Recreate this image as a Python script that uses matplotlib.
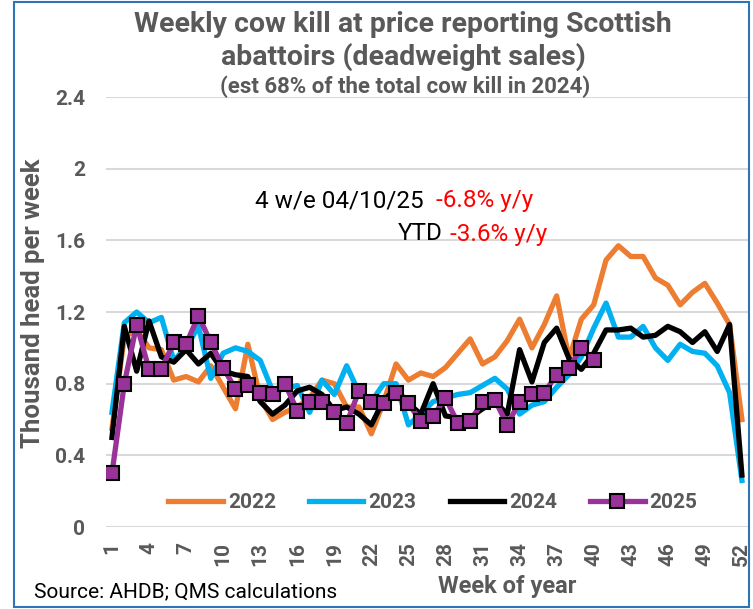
import matplotlib
matplotlib.use("Agg")
import matplotlib.pyplot as plt
from matplotlib.patches import Rectangle

plt.rcParams['font.family'] = ['Roboto', 'DejaVu Sans']

# weekly cow kill, thousand head
weeks = list(range(1, 53))
y2022 = [0.55, 1.06, 1.10, 1.00, 0.99, 0.82, 0.84, 0.81, 0.90, 0.78, 0.66, 1.02, 0.72,
         0.60, 0.64, 0.67, 0.72, 0.82, 0.80, 0.67, 0.67, 0.52, 0.70, 0.91, 0.82, 0.86,
         0.84, 0.89, 0.97, 1.05, 0.91, 0.95, 1.04, 1.16, 1.00, 1.13, 1.29, 0.94, 1.16,
         1.24, 1.49, 1.57, 1.51, 1.51, 1.39, 1.35, 1.24, 1.31, 1.36, 1.25, 1.13, 0.60]
y2023 = [0.64, 1.14, 1.20, 1.14, 1.17, 0.93, 1.00, 1.12, 0.83, 0.97, 1.00, 0.98, 0.93,
         0.76, 0.77, 0.79, 0.64, 0.82, 0.74, 0.90, 0.75, 0.70, 0.80, 0.80, 0.57, 0.63,
         0.70, 0.72, 0.74, 0.75, 0.79, 0.83, 0.77, 0.63, 0.68, 0.70, 0.78, 0.85, 0.95,
         1.11, 1.25, 1.06, 1.06, 1.12, 1.00, 0.93, 1.02, 0.98, 0.97, 0.90, 0.75, 0.26]
y2024 = [0.50, 1.12, 0.87, 1.15, 0.95, 0.92, 0.99, 0.91, 0.97, 0.87, 0.85, 0.84, 0.70,
         0.63, 0.68, 0.76, 0.78, 0.74, 0.65, 0.67, 0.63, 0.57, 0.71, 0.77, 0.69, 0.63,
         0.80, 0.62, 0.61, 0.61, 0.66, 0.70, 0.63, 0.99, 0.81, 1.03, 1.11, 0.94, 0.88,
         0.97, 1.10, 1.10, 1.11, 1.06, 1.07, 1.12, 1.09, 1.03, 1.09, 0.98, 1.13, 0.29]
y2025 = [0.30, 0.80, 1.13, 0.88, 0.88, 1.03, 1.02, 1.18, 1.03, 0.89, 0.77, 0.79, 0.75,
         0.74, 0.80, 0.65, 0.70, 0.70, 0.64, 0.58, 0.76, 0.70, 0.69, 0.75, 0.69, 0.59,
         0.62, 0.72, 0.58, 0.59, 0.70, 0.71, 0.57, 0.70, 0.74, 0.75, 0.85, 0.89, 1.00,
         0.93]

gray = '#595959'

fig = plt.figure(figsize=(7.53, 6.09), dpi=100)
ax = fig.add_axes([0.1405, 0.1346, 0.853, 0.7061])

ax.plot(weeks, y2022, color='#ED7D31', lw=3.8, label='2022', solid_joinstyle='round')
ax.plot(weeks, y2023, color='#00B0F0', lw=3.8, label='2023', solid_joinstyle='round')
ax.plot(weeks, y2024, color='black', lw=3.8, label='2024', solid_joinstyle='round')
ax.plot(weeks[:len(y2025)], y2025, color='#993399', lw=3.8, marker='s', markersize=10,
        markerfacecolor='#993399', markeredgecolor='black', markeredgewidth=1.5,
        label='2025', solid_joinstyle='round')

ax.set_xlim(0.5, 52.5)
ax.set_ylim(0, 2.4)
ax.set_yticks([0, 0.4, 0.8, 1.2, 1.6, 2, 2.4])
ax.set_yticklabels(['0', '0.4', '0.8', '1.2', '1.6', '2', '2.4'])
ax.set_xticks(weeks[::3])
ax.tick_params(length=0, labelcolor=gray, labelsize=15)
ax.tick_params(axis='y', pad=15)
ax.tick_params(axis='x', pad=11, labelrotation=90)
for lbl in ax.get_xticklabels() + ax.get_yticklabels():
    lbl.set_fontweight('bold')
ax.grid(axis='y', color='#D9D9D9', lw=1.5)
ax.set_axisbelow(True)
for s in ax.spines.values():
    s.set_visible(False)

fig.text(33 / 753, 1 - 303 / 609, 'Thousand head per week', rotation=90, ha='center',
         va='center', fontsize=18.5, fontweight='bold', color=gray)
fig.text(507 / 753, 1 - 587 / 609, 'Week of year', ha='center', va='center',
         fontsize=17, fontweight='bold', color=gray)
fig.text(34 / 753, 1 - 592 / 609, 'Source: AHDB; QMS calculations', ha='left',
         va='center', fontsize=15, color='black')

fig.text(403 / 753, 1 - 25 / 609, 'Weekly cow kill at price reporting Scottish',
         ha='center', va='center', fontsize=20.5, fontweight='bold', color=gray)
fig.text(403 / 753, 1 - 57 / 609, 'abattoirs (deadweight sales)',
         ha='center', va='center', fontsize=20.5, fontweight='bold', color=gray)
fig.text(405 / 753, 1 - 87 / 609, '(est 68% of the total cow kill in 2024)',
         ha='center', va='center', fontsize=16, fontweight='bold', color=gray)

# y/y notes, red part first then black label to its left
r1 = fig.text(533 / 753, 1 - 201 / 609, '-6.8% y/y', ha='right', va='center',
              fontsize=17.5, color='red')
r2 = fig.text(547 / 753, 1 - 234 / 609, '-3.6% y/y', ha='right', va='center',
              fontsize=17.5, color='red')
ax.annotate('4 w/e 04/10/25', xy=(0, 0.5), xycoords=r1, xytext=(-9, 0),
            textcoords='offset points', ha='right', va='center', fontsize=17.5, color='black')
ax.annotate('YTD', xy=(0, 0.5), xycoords=r2, xytext=(-5, 0),
            textcoords='offset points', ha='right', va='center', fontsize=17.5, color='black')

leg = ax.legend(ncol=4, loc='center', bbox_to_anchor=(433 / 753, 1 - 503 / 609),
                bbox_transform=fig.transFigure, frameon=False, handlelength=2.6,
                handletextpad=0.25, columnspacing=1.6, prop={'weight': 'bold', 'size': 15})
for t in leg.get_texts():
    t.set_color(gray)

fig.patches.append(Rectangle((14 / 753, 2 / 609), 735 / 753, 605 / 609,
                             transform=fig.transFigure, fill=False,
                             edgecolor='#2E75B6', lw=1.5))

fig.savefig('out.png', dpi=100)
